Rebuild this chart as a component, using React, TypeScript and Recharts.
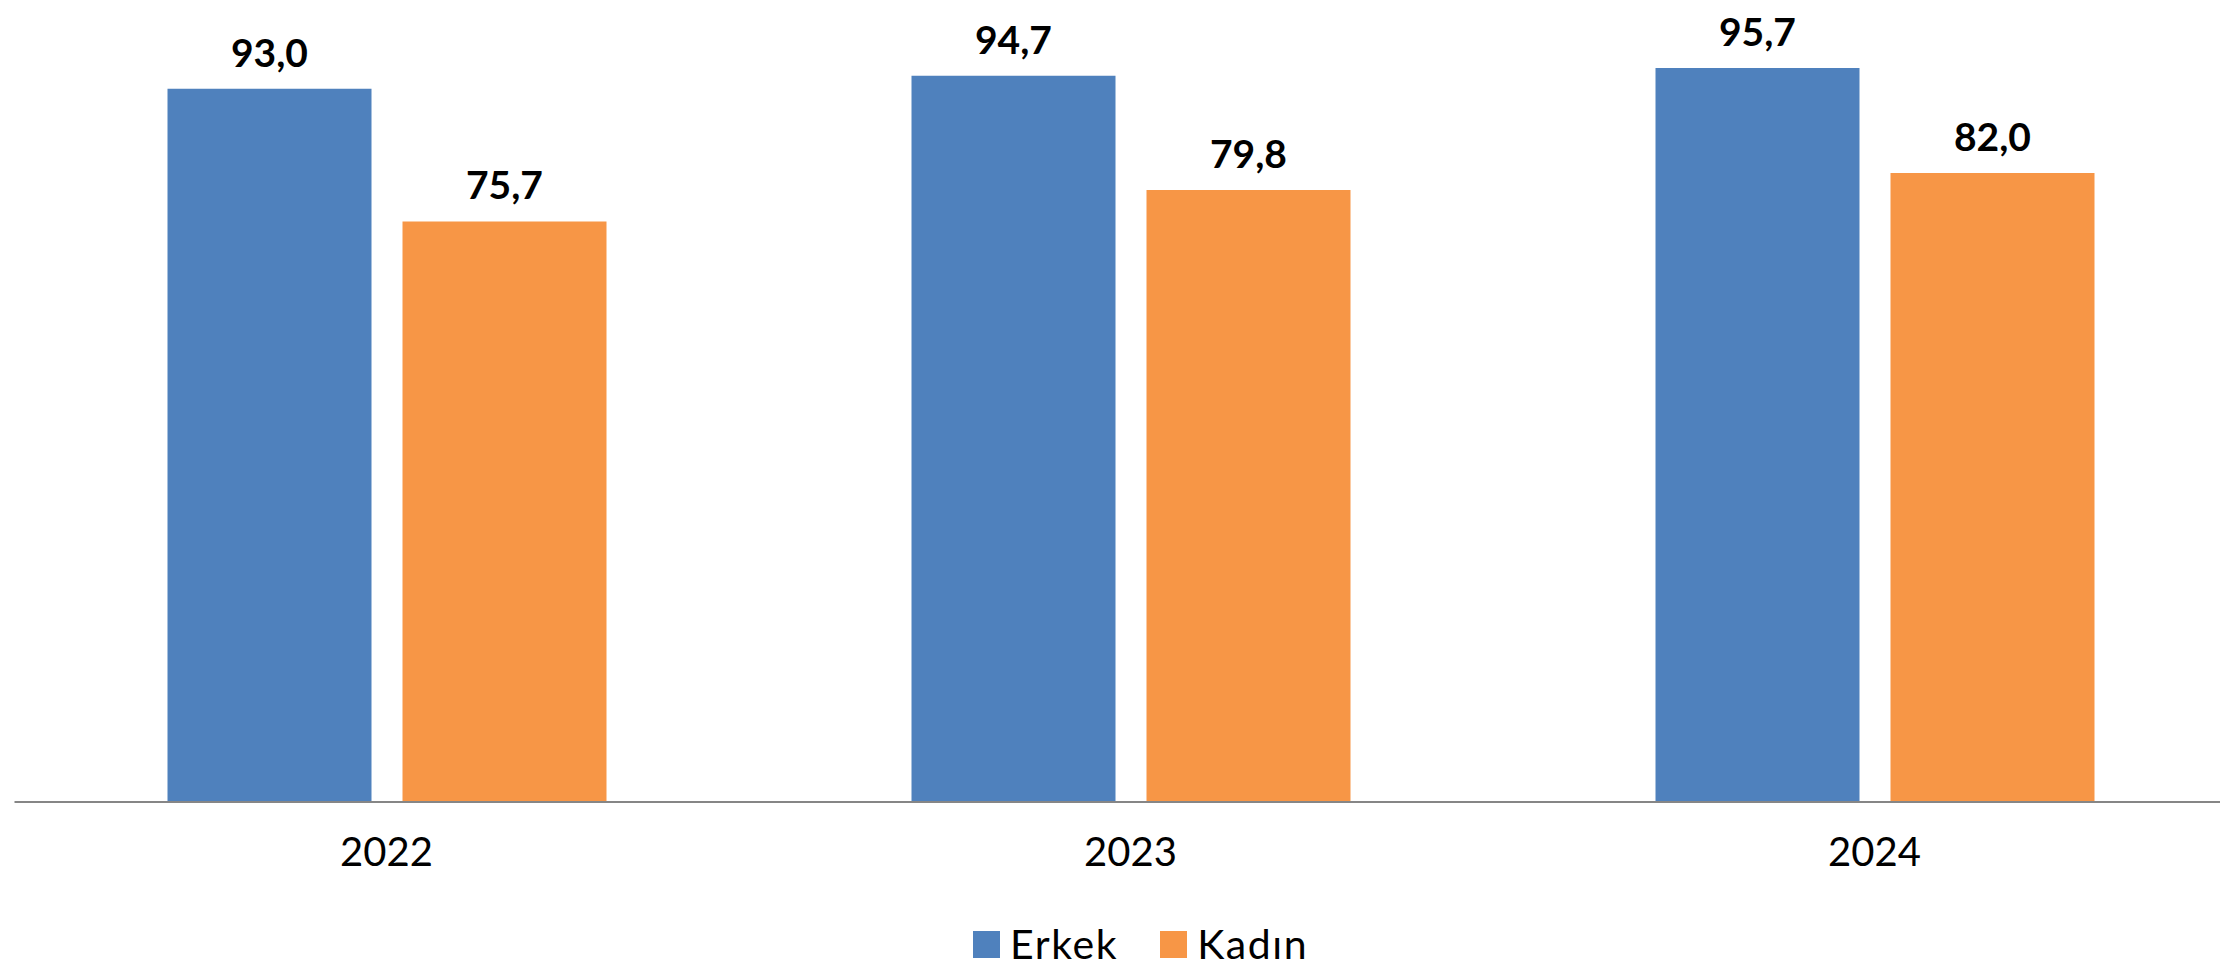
import React from 'react';
import { Bar, BarChart, LabelList, Legend, XAxis, YAxis } from 'recharts';

const years = ['2022', '2023', '2024'];
const erkek = [93.0, 94.7, 95.7];
const kadin = [75.7, 79.8, 82.0];

const seriesNames = { erkek: 'Erkek', kadin: 'Kadın' };
const colors = { erkek: '#4F81BD', kadin: '#F79646' };

const data = years.map((year, i) => ({
  year,
  erkek: erkek[i],
  kadin: kadin[i],
}));

const FONT = 'Lato, Carlito, "Open Sans", sans-serif';

const formatValue = (v: unknown): string =>
  typeof v === 'number' ? v.toFixed(1).replace('.', ',') : String(v);

const LegendContent = (): JSX.Element => (
  <div style={{ display: 'flex', alignItems: 'center', fontFamily: FONT }}>
    {(['erkek', 'kadin'] as const).map((key) => (
      <div
        key={key}
        style={{ display: 'flex', alignItems: 'center', marginRight: 42 }}
      >
        <span
          style={{
            display: 'inline-block',
            width: 27,
            height: 27,
            background: colors[key],
            marginRight: 10,
          }}
        />
        <span
          style={{
            fontSize: 41,
            color: '#000',
            lineHeight: '48px',
            letterSpacing: 1.6,
          }}
        >
          {seriesNames[key]}
        </span>
      </div>
    ))}
  </div>
);

export default function App(): JSX.Element {
  return (
    <div
      style={{
        position: 'absolute',
        left: 0,
        top: 0,
        width: 2220,
        height: 975,
        overflow: 'hidden',
        background: '#fff',
        fontFamily: FONT,
      }}
    >
      <BarChart
        width={2247}
        height={975}
        data={data}
        margin={{ top: 35, right: 0.5, left: 14.5, bottom: 113 }}
        barSize={204}
        barGap={31}
      >
        <XAxis
          dataKey="year"
          height={60}
          axisLine={{ stroke: '#868686', strokeWidth: 2 }}
          tickLine={false}
          tickSize={0}
          tickMargin={36}
          tick={{ fontSize: 40, fill: '#000', fontFamily: FONT }}
        />
        <YAxis hide domain={[0, 100]} />
        <Legend
          layout="horizontal"
          verticalAlign="middle"
          align="center"
          content={<LegendContent />}
          wrapperStyle={{ top: 920, left: 973, width: 420, height: 48 }}
        />
        <Bar
          dataKey="erkek"
          name={seriesNames.erkek}
          fill={colors.erkek}
          isAnimationActive={false}
        >
          <LabelList
            dataKey="erkek"
            position="top"
            offset={22}
            formatter={formatValue}
            style={{ fontSize: 39, fontWeight: 'bold', fill: '#000', fontFamily: FONT }}
          />
        </Bar>
        <Bar
          dataKey="kadin"
          name={seriesNames.kadin}
          fill={colors.kadin}
          isAnimationActive={false}
        >
          <LabelList
            dataKey="kadin"
            position="top"
            offset={22}
            formatter={formatValue}
            style={{ fontSize: 39, fontWeight: 'bold', fill: '#000', fontFamily: FONT }}
          />
        </Bar>
      </BarChart>
    </div>
  );
}
